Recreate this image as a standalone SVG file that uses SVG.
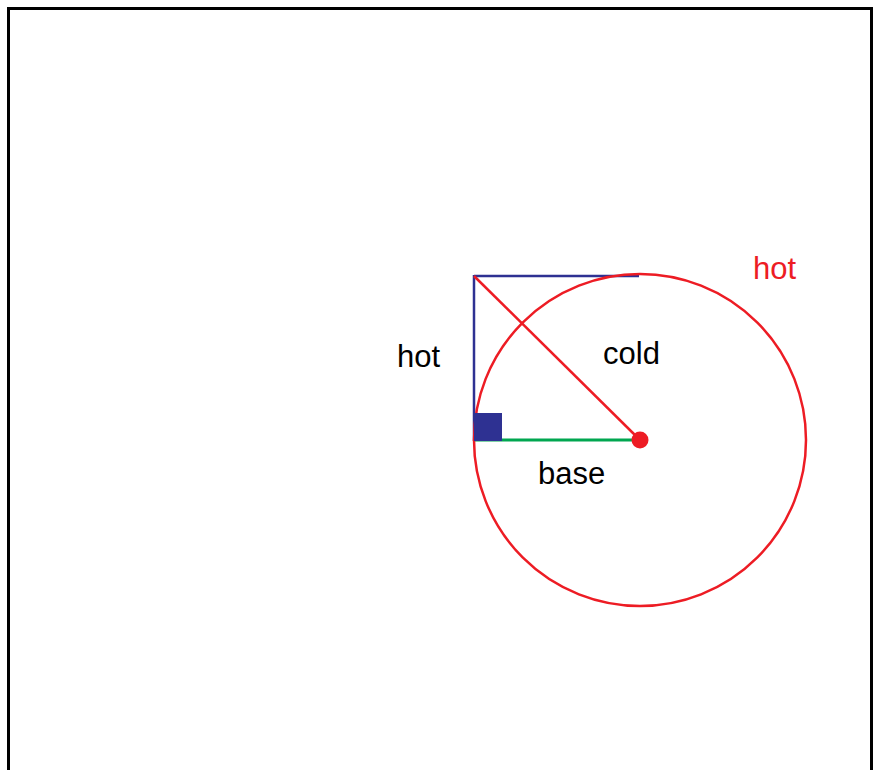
<svg xmlns="http://www.w3.org/2000/svg" width="879" height="770" viewBox="0 0 879 770">
<style>
text{font-family:"Liberation Sans",Arial,sans-serif;font-size:31px;fill:#000}
.red{fill:#ed1c24}
</style>
<rect x="0" y="0" width="879" height="770" fill="#fff"/>
<rect id="frame" x="8.5" y="8.5" width="863" height="780" fill="none" stroke="#000" stroke-width="3"/>
<g id="connectors">
<line x1="474" y1="276" x2="639" y2="276" stroke="#2e3192" stroke-width="2.5"/>
<line x1="474" y1="275" x2="474" y2="441" stroke="#2e3192" stroke-width="2.5"/>
<line x1="474" y1="440" x2="640" y2="440" stroke="#00a650" stroke-width="3"/>
<line x1="474" y1="276" x2="640" y2="440" stroke="#ed1c24" stroke-width="2.5"/>
</g>
<g id="circle"><circle cx="640" cy="440" r="166" fill="none" stroke="#ed1c24" stroke-width="2.5"/></g>
<g id="rightangle"><rect x="474" y="413" width="28" height="28" fill="#2e3192"/></g>
<g id="center"><circle cx="640" cy="440" r="8.5" fill="#ed1c24"/></g>
<g id="labels">
<text x="397" y="367">hot</text>
<text x="603" y="364">cold</text>
<text x="538" y="484">base</text>
<text class="red" x="753" y="279">hot</text>
</g>
</svg>
